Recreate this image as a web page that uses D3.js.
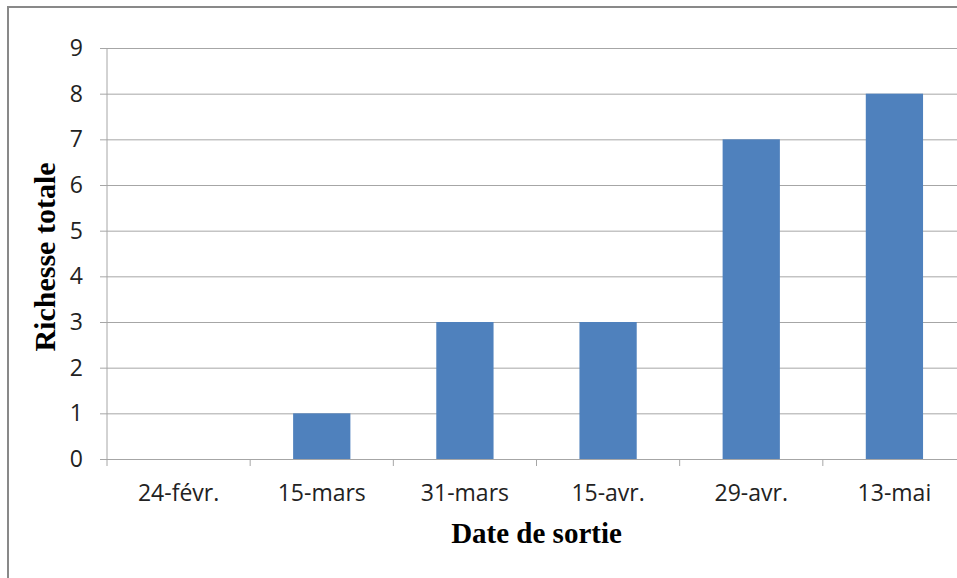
<!DOCTYPE html>
<html lang="en">
<head>
    <meta charset="utf-8" />
    <script src="https://d3js.org/d3.v7.min.js"></script>
    <style>
        body { margin: 0; background: #fff; }
        svg { display: block; }
    </style>
</head>
<body>
    <script>
        const categories = ["24-févr.", "15-mars", "31-mars", "15-avr.", "29-avr.", "13-mai"];
        const values = [0, 1, 3, 3, 7, 8];
        const yTicks = [0, 1, 2, 3, 4, 5, 6, 7, 8, 9];

        const w = 957;
        const h = 578;
        const mLeft = 107, mRight = 966, mTop = 48, mBottom = 459;

        const svg = d3.select("body").append("svg")
            .attr("width", w)
            .attr("height", h);

        // outer chart border
        svg.append("rect")
            .attr("x", 8).attr("y", 7)
            .attr("width", 980).attr("height", 600)
            .attr("fill", "none")
            .attr("stroke", "#898989")
            .attr("stroke-width", 2);

        const x = d3.scaleBand()
            .domain(categories)
            .range([mLeft, mRight])
            .paddingInner(0.6)
            .paddingOuter(0.3);

        const xb = d3.scaleBand().domain(categories).range([mLeft, mRight]);

        const y = d3.scaleLinear()
            .domain([0, 9])
            .range([mBottom, mTop]);

        // gridlines + y axis
        const yAxis = d3.axisLeft(y)
            .tickValues(yTicks)
            .tickSize(-(mRight - mLeft));

        const gy = svg.append("g")
            .attr("transform", `translate(${mLeft},0)`)
            .call(yAxis);
        gy.select(".domain").remove();
        gy.selectAll(".tick line")
            .attr("x1", -7)
            .attr("stroke", "#a6a6a6");
        gy.selectAll(".tick text")
            .attr("x", -24)
            .attr("fill", "#222")
            .style("font-family", "'Open Sans', sans-serif")
            .style("font-size", "23px");

        svg.append("line")
            .attr("x1", mLeft).attr("x2", mLeft)
            .attr("y1", mTop).attr("y2", mBottom)
            .attr("stroke", "#a6a6a6");

        // bars
        svg.selectAll("rect.bar")
            .data(values)
            .enter()
            .append("rect")
            .attr("class", "bar")
            .attr("x", (d, i) => x(categories[i]))
            .attr("y", d => y(d))
            .attr("width", x.bandwidth())
            .attr("height", d => mBottom - y(d))
            .attr("fill", "#4f81bd");

        // x axis
        const gx = svg.append("g")
            .attr("transform", `translate(0,${mBottom})`)
            .call(d3.axisBottom(xb).tickSize(0).tickPadding(26));
        gx.select(".domain")
            .attr("stroke", "#a6a6a6")
            .attr("d", `M${mLeft},0.5H${mRight}`);
        gx.selectAll(".tick text")
            .attr("fill", "#222")
            .style("font-family", "'Open Sans', sans-serif")
            .style("font-size", "23px");

        // category separator ticks
        svg.selectAll("line.sep")
            .data(categories)
            .enter()
            .append("line")
            .attr("class", "sep")
            .attr("x1", d => xb(d)).attr("x2", d => xb(d))
            .attr("y1", mBottom).attr("y2", mBottom + 7)
            .attr("stroke", "#a6a6a6");

        // axis titles
        svg.append("text")
            .attr("x", (mLeft + mRight) / 2)
            .attr("y", 543)
            .attr("text-anchor", "middle")
            .style("font-family", "'Liberation Serif', serif")
            .style("font-weight", "bold")
            .style("font-size", "29px")
            .text("Date de sortie");

        svg.append("text")
            .attr("transform", "translate(55,257) rotate(-90)")
            .attr("text-anchor", "middle")
            .style("font-family", "'Liberation Serif', serif")
            .style("font-weight", "bold")
            .style("font-size", "30px")
            .text("Richesse totale");
    </script>
</body>
</html>
